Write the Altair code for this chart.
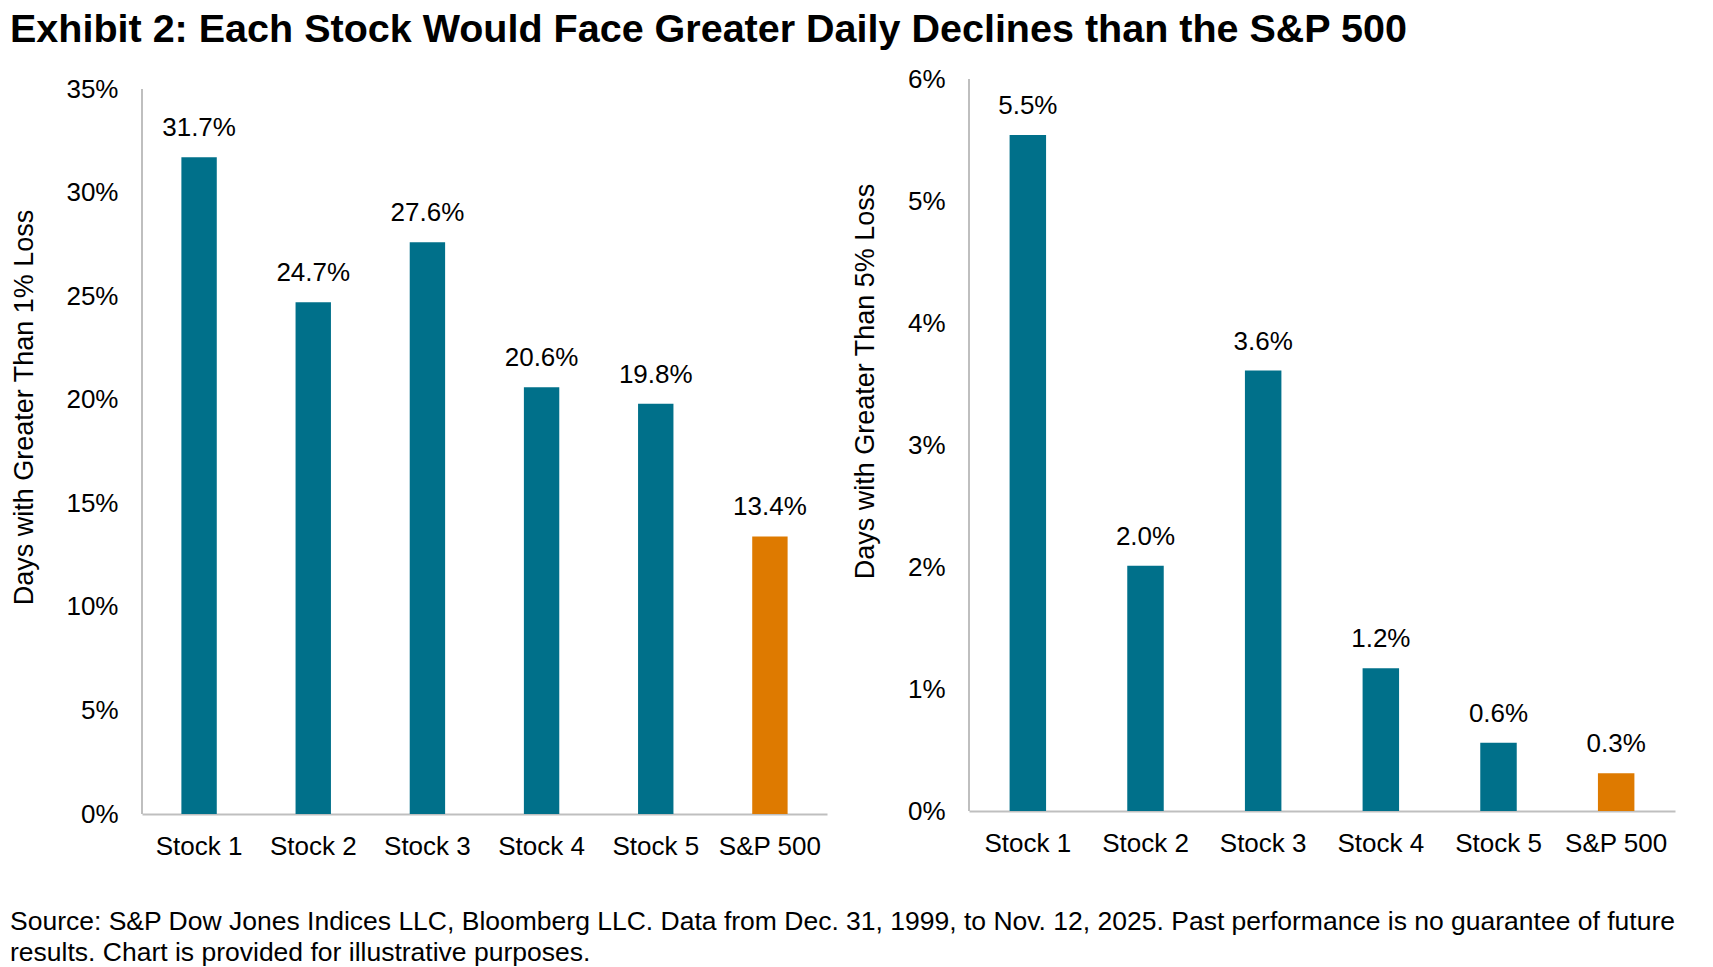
import altair as alt
import pandas as pd

# ---------------- data ----------------
categories = ["Stock 1", "Stock 2", "Stock 3", "Stock 4", "Stock 5", "S&P 500"]
groups = ["Stock", "Stock", "Stock", "Stock", "Stock", "Index"]
loss1_values = [31.7, 24.7, 27.6, 20.6, 19.8, 13.4]
loss5_values = [5.54, 2.01, 3.61, 1.17, 0.56, 0.31]
left_ticks = [0, 5, 10, 15, 20, 25, 30, 35]
right_ticks = [0, 1, 2, 3, 4, 5, 6]
left_ytitle = "Days with Greater Than 1% Loss"
right_ytitle = "Days with Greater Than 5% Loss"
title_text = "Exhibit 2: Each Stock Would Face Greater Daily Declines than the S&P 500"
footer_lines = [
    "Source: S&P Dow Jones Indices LLC, Bloomberg LLC. Data from Dec. 31, 1999, to Nov. 12, 2025. Past performance is no guarantee of future",
    "results. Chart is provided for illustrative purposes.",
]

FONT = "Liberation Sans"
TEAL = "#00708A"
ORANGE = "#DE7A00"
AXIS_GRAY = "#BFBFBF"


def panel(values, ticks, axis_top, dmax, width, height, ytitle, title_x, title_y):
    df = pd.DataFrame({"cat": categories, "grp": groups, "v": values})
    df["lbl"] = [f"{v:.1f}%" for v in values]
    rule_df = pd.DataFrame({"v": [0], "v2": [axis_top]})

    x = alt.X(
        "cat:N",
        sort=categories,
        title=None,
        scale=alt.Scale(paddingInner=0.69, paddingOuter=0.345),
        axis=alt.Axis(
            labelAngle=0,
            labelFontSize=26,
            labelPadding=19,
            ticks=False,
            domainColor=AXIS_GRAY,
            domainWidth=2,
            labelColor="black",
            labelFont=FONT,
        ),
    )
    y = alt.Y(
        "v:Q",
        title=ytitle,
        scale=alt.Scale(domain=[0, dmax], nice=False, zero=True),
        axis=alt.Axis(
            values=ticks,
            labelExpr="datum.value + '%'",
            grid=False,
            domain=False,
            ticks=False,
            labelPadding=24,
            labelFontSize=26,
            labelColor="black",
            labelFont=FONT,
            titleFontSize=27,
            titleFontWeight="normal",
            titleFont=FONT,
            titleColor="black",
            titleX=title_x,
            titleY=title_y,
            titleBaseline="middle",
            titleAngle=270,
        ),
    )
    base = alt.Chart(df)
    bars = base.mark_bar().encode(
        x=x,
        y=y,
        color=alt.Color(
            "grp:N",
            scale=alt.Scale(domain=["Stock", "Index"], range=[TEAL, ORANGE]),
            legend=None,
        ),
    )
    labels = base.mark_text(
        baseline="middle", dy=-29, fontSize=26, font=FONT, color="black"
    ).encode(x=x, y=y, text="lbl:N")
    rule = alt.Chart(rule_df).mark_rule(color=AXIS_GRAY, strokeWidth=2).encode(
        x=alt.value(0), y=y, y2="v2:Q"
    )
    return alt.layer(rule, bars, labels).properties(width=width, height=height)


# left plot: top 80, 35% at 90, baseline 815
left = panel(loss1_values, left_ticks, 35, 35 * 735 / 725, 685, 735, left_ytitle, -118, 328)
# right plot: top 80 (6%), baseline 812
right = panel(loss5_values, right_ticks, 6, 6, 706, 732, right_ytitle, -104, 302)

row = alt.hconcat(
    left,
    right,
    spacing=142,
    bounds="flush",
    title=alt.TitleParams(
        title_text,
        anchor="start",
        fontSize=39.5,
        fontWeight="bold",
        font=FONT,
        color="black",
        offset=16,
    ),
)

chart = (
    alt.vconcat(
        row,
        title=alt.TitleParams(
            footer_lines,
            orient="bottom",
            anchor="start",
            fontSize=26.5,
            fontWeight="normal",
            font=FONT,
            color="black",
            lineHeight=31,
            offset=50,
        ),
    )
    .properties(padding={"left": 2, "top": 1, "right": 0, "bottom": 0})
    .configure_view(stroke=None)
)

chart.save("out.html", embed_options={"renderer": "svg", "actions": False})
